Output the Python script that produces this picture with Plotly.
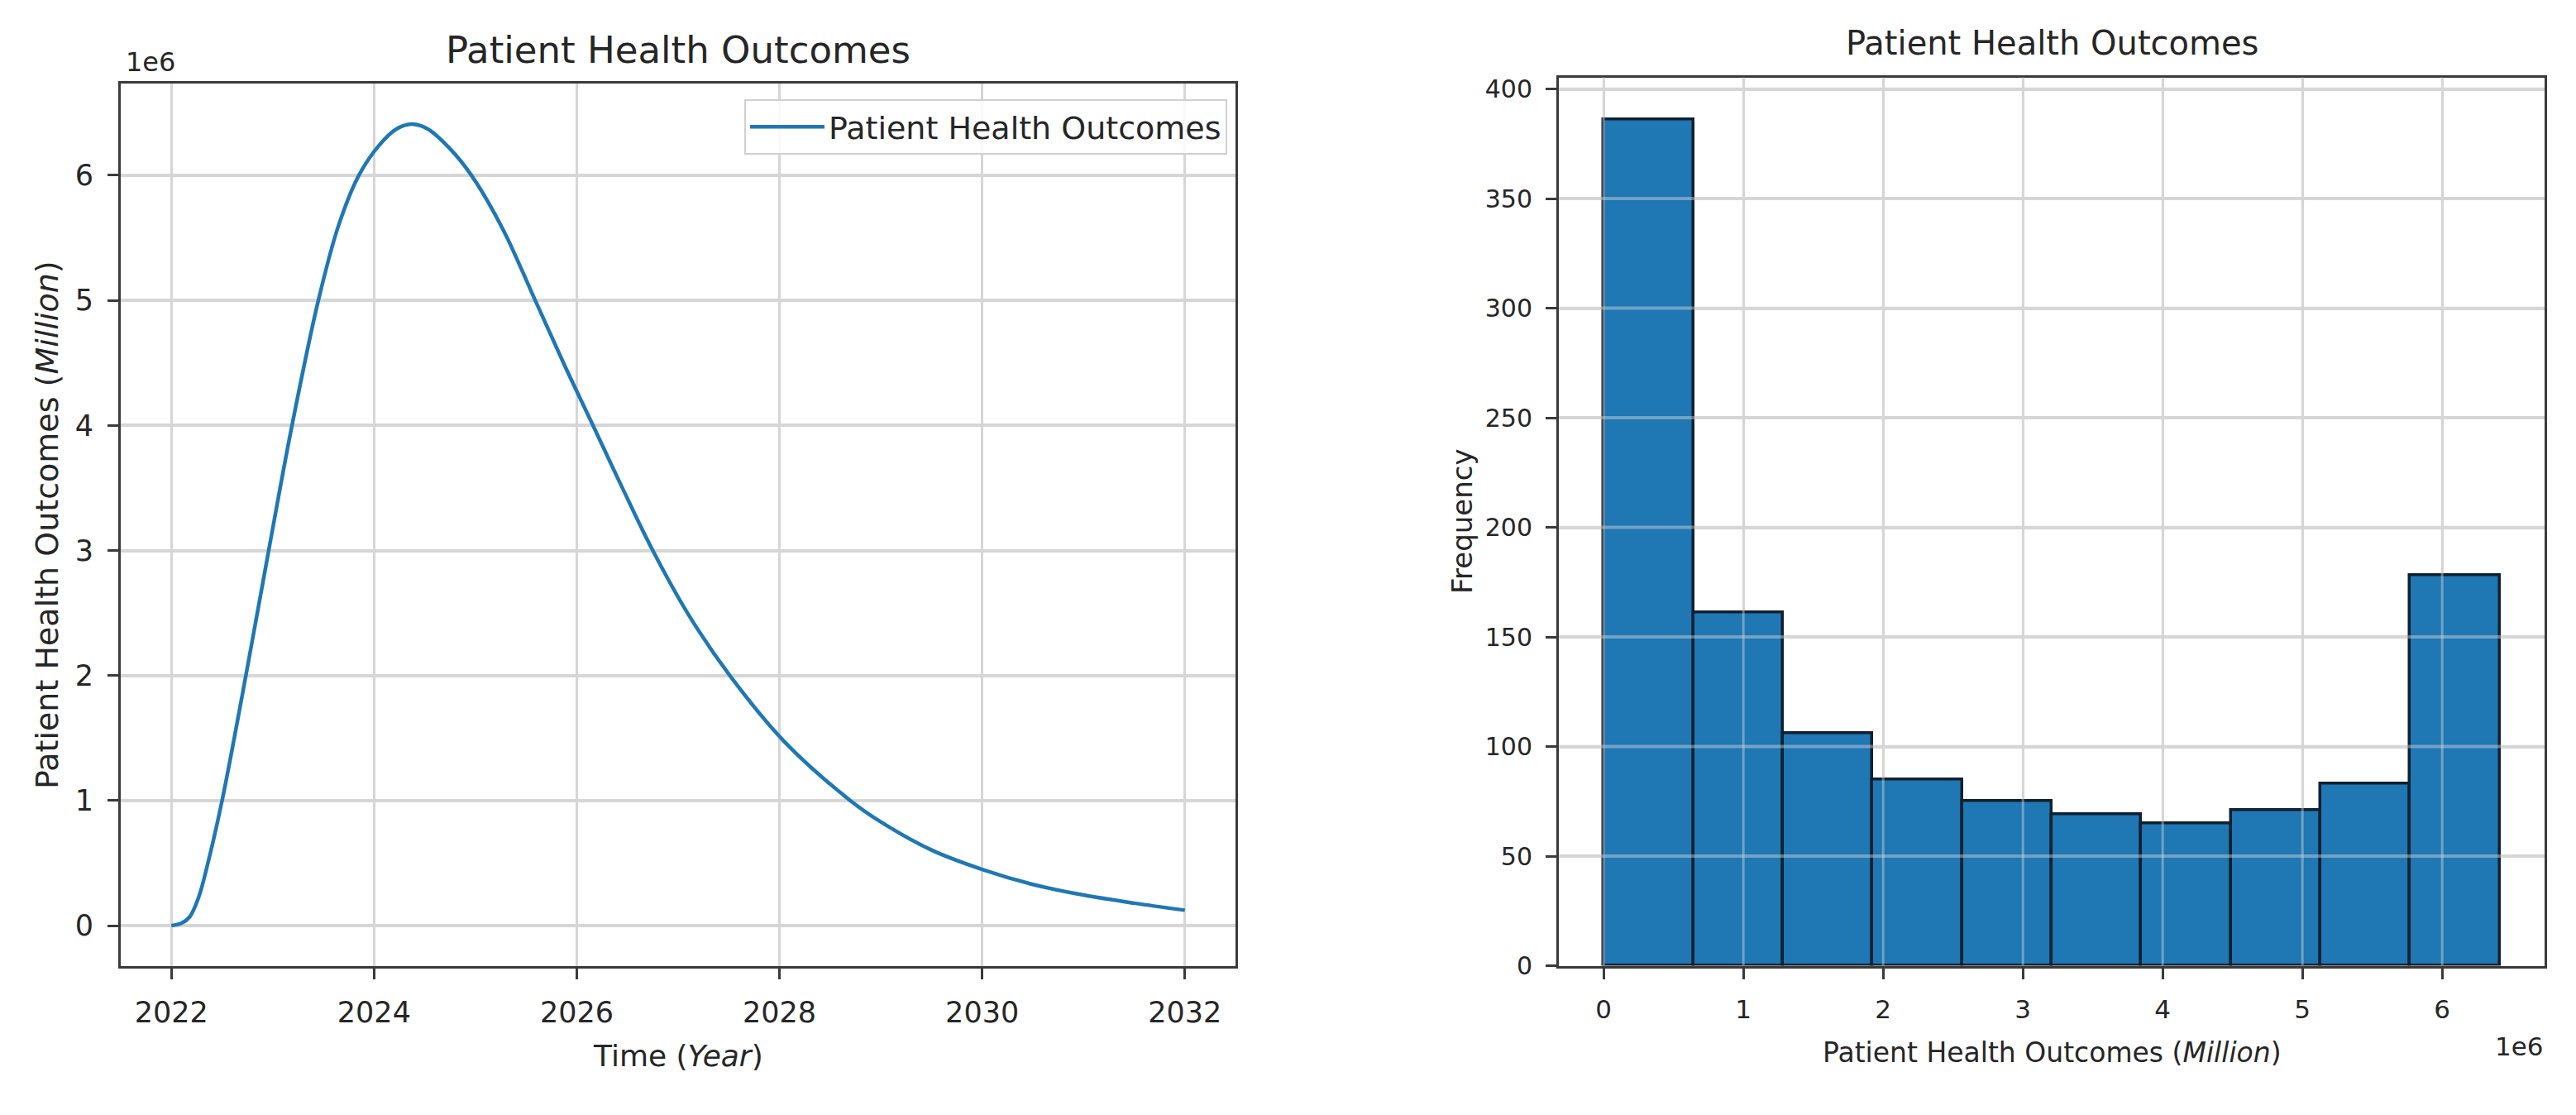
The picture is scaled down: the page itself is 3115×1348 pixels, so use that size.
import plotly.graph_objects as go

# ---------------- data ----------------
years = [2022.00, 2022.10, 2022.18, 2022.27, 2022.36, 2022.50, 2022.735, 2022.96,
         2023.19, 2023.45, 2023.65, 2023.85, 2024.05, 2024.22, 2024.37, 2024.53,
         2024.74, 2024.96, 2025.27, 2025.59, 2025.88, 2026.16, 2026.45, 2026.75,
         2027.10, 2027.51, 2028.05, 2028.70, 2029.00, 2029.50, 2030.00, 2030.50,
         2031.00, 2031.50, 2032.00]
outcomes_million = [0.00, 0.02, 0.07, 0.23, 0.50, 1.00, 2.00, 3.00,
                    4.00, 5.00, 5.60, 6.00, 6.24, 6.37, 6.41, 6.37,
                    6.22, 6.00, 5.57, 5.00, 4.48, 4.00, 3.50, 3.00,
                    2.49, 2.00, 1.47, 1.00, 0.83, 0.605, 0.45, 0.33,
                    0.245, 0.18, 0.124]
outcomes = [v * 1e6 for v in outcomes_million]

hist_edges_million = [0.0, 0.6412, 1.2824, 1.9236, 2.5648, 3.2060, 3.8472, 4.4884,
                      5.1296, 5.7708, 6.4120]
hist_counts = [386, 161, 106, 85, 75, 69, 65, 71, 83, 178]

year_ticks = [2022, 2024, 2026, 2028, 2030, 2032]
left_y_ticks = [0, 1, 2, 3, 4, 5, 6]
right_x_ticks = [0, 1, 2, 3, 4, 5, 6]
right_y_ticks = [0, 50, 100, 150, 200, 250, 300, 350, 400]

title_text = "Patient Health Outcomes"

# ---------------- figure ----------------
W, H = 3115, 1348
FONT = "DejaVu Sans, Verdana, sans-serif"
TXT = "#262626"
GRID = "#d6d6d6"
SPINE = "#3a3a3a"
BLUE = "#1f77b4"

def px_x(p):
    return p / W

def px_y(p):
    return 1 - p / H

fig = go.Figure()

fig.add_trace(go.Scatter(
    x=years, y=outcomes, mode="lines", name=title_text,
    line=dict(color=BLUE, width=4.5, shape="spline", smoothing=1.0),
    xaxis="x", yaxis="y", showlegend=True,
))

centers = [(hist_edges_million[i] + hist_edges_million[i + 1]) / 2 * 1e6 for i in range(len(hist_counts))]
widths = [(hist_edges_million[i + 1] - hist_edges_million[i]) * 1e6 for i in range(len(hist_counts))]
fig.add_trace(go.Bar(
    x=centers, y=hist_counts, width=widths,
    marker=dict(color=BLUE, line=dict(color="#10202f", width=3.5)),
    xaxis="x2", yaxis="y2", showlegend=False,
))

ymax_line = max(outcomes)
ymin_line = min(outcomes)
yr = ymax_line - ymin_line
xr = max(years) - min(years)
hx_min = hist_edges_million[0] * 1e6
hx_max = hist_edges_million[-1] * 1e6
hxr = hx_max - hx_min

common_axis = dict(
    showline=True, linecolor=SPINE, linewidth=3, mirror=True,
    ticks="outside", ticklen=13, tickwidth=3, tickcolor=SPINE,
    showgrid=True, gridcolor=GRID, zeroline=False,
)

fig.update_layout(
    width=W, height=H,
    margin=dict(l=0, r=0, t=0, b=0),
    paper_bgcolor="white", plot_bgcolor="white",
    font=dict(family=FONT, color=TXT),
    bargap=0,
    xaxis=dict(
        domain=[px_x(146), px_x(1494)],
        range=[min(years) - 0.05 * xr, max(years) + 0.05 * xr],
        tickvals=year_ticks, ticktext=[str(t) for t in year_ticks],
        tickfont=dict(size=35, family=FONT, color=TXT), gridwidth=3,
        ticklabelstandoff=10,
        anchor="y", **common_axis,
    ),
    yaxis=dict(
        domain=[px_y(1183), px_y(100)],
        range=[ymin_line - 0.05 * yr, ymax_line + 0.05 * yr],
        tickvals=[t * 1e6 for t in left_y_ticks], ticktext=[str(t) for t in left_y_ticks],
        tickfont=dict(size=35, family=FONT, color=TXT), gridwidth=4,
        ticklabelstandoff=10,
        anchor="x", **common_axis,
    ),
    xaxis2=dict(
        domain=[px_x(1885), px_x(3077)],
        range=[hx_min - 0.05 * hxr, hx_max + 0.05 * hxr],
        tickvals=[t * 1e6 for t in right_x_ticks], ticktext=[str(t) for t in right_x_ticks],
        tickfont=dict(size=31, family=FONT, color=TXT), gridwidth=3,
        ticklabelstandoff=10,
        anchor="y2", **common_axis,
    ),
    yaxis2=dict(
        domain=[px_y(1183), px_y(92)],
        range=[0, max(hist_counts) * 1.05],
        tickvals=right_y_ticks, ticktext=[str(t) for t in right_y_ticks],
        tickfont=dict(size=30, family=FONT, color=TXT), gridwidth=4,
        ticklabelstandoff=10,
        anchor="x2", **common_axis,
    ),
    legend=dict(
        x=px_x(1484), y=px_y(119), xanchor="right", yanchor="top",
        bgcolor="rgba(255,255,255,0.85)", bordercolor="#d0d0d0", borderwidth=2,
        font=dict(size=38, family=FONT, color=TXT),
        itemwidth=90,
    ),
)

# grid lines drawn over the bars (matplotlib draws the grid above the patches)
for t in right_y_ticks[1:]:
    fig.add_shape(type="line", xref="x2 domain", yref="y2", x0=0, x1=1, y0=t, y1=t,
                  line=dict(color="rgba(215,215,215,0.45)", width=4), layer="above")
for t in right_x_ticks:
    fig.add_shape(type="line", xref="x2", yref="y2 domain", x0=t * 1e6, x1=t * 1e6, y0=0, y1=1,
                  line=dict(color="rgba(215,215,215,0.45)", width=3), layer="above")

ann = []
# titles
ann.append(dict(text=title_text, x=px_x(820), y=px_y(58), xref="paper", yref="paper",
                xanchor="center", yanchor="middle", showarrow=False,
                font=dict(size=45, family=FONT, color=TXT)))
ann.append(dict(text=title_text, x=px_x(2481), y=px_y(50), xref="paper", yref="paper",
                xanchor="center", yanchor="middle", showarrow=False,
                font=dict(size=40, family=FONT, color=TXT)))
# axis titles
ann.append(dict(text="Time (<i>Year</i>)", x=px_x(820), y=px_y(1294), xref="paper", yref="paper",
                xanchor="center", yanchor="middle", showarrow=False,
                font=dict(size=36, family=FONT, color=TXT)))
ann.append(dict(text="Patient Health Outcomes (<i>Million</i>)", x=px_x(57), y=px_y(642),
                xref="paper", yref="paper", xanchor="center", yanchor="middle",
                textangle=-90, showarrow=False, font=dict(size=38, family=FONT, color=TXT)))
ann.append(dict(text="Patient Health Outcomes (<i>Million</i>)", x=px_x(2481), y=px_y(1290),
                xref="paper", yref="paper", xanchor="center", yanchor="middle",
                showarrow=False, font=dict(size=33, family=FONT, color=TXT)))
ann.append(dict(text="Frequency", x=px_x(1768), y=px_y(637), xref="paper", yref="paper",
                xanchor="center", yanchor="middle", textangle=-90, showarrow=False,
                font=dict(size=34, family=FONT, color=TXT)))
# offset texts
ann.append(dict(text="1e6", x=px_x(150), y=px_y(73), xref="paper", yref="paper",
                xanchor="left", yanchor="middle", showarrow=False,
                font=dict(size=32, family=FONT, color=TXT)))
ann.append(dict(text="1e6", x=px_x(3078), y=px_y(1282), xref="paper", yref="paper",
                xanchor="right", yanchor="middle", showarrow=False,
                font=dict(size=31, family=FONT, color=TXT)))
fig.update_layout(annotations=ann)

fig.write_html("out.html", config={"displayModeBar": False},
               post_script="document.body.style.margin='0';document.body.style.overflow='hidden';")
